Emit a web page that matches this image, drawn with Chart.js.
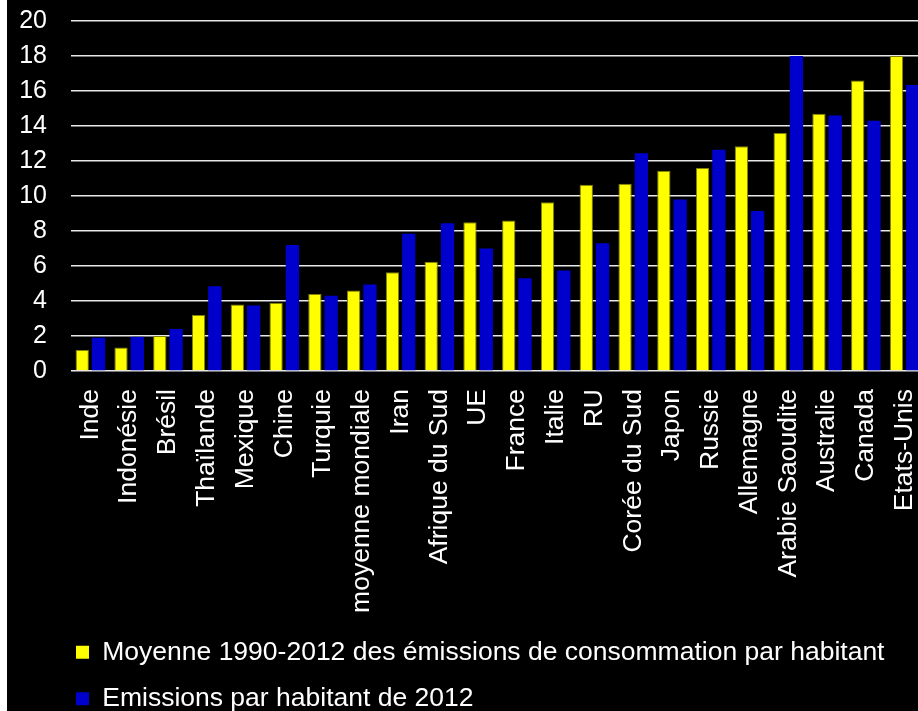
<!DOCTYPE html>
<html>
<head>
<meta charset="utf-8">
<script src="https://cdn.jsdelivr.net/npm/chart.js@4/dist/chart.umd.min.js"></script>
<style>
  html, body { margin: 0; padding: 0; background: #ffffff; overflow: hidden; width: 918px; height: 711px; }
  #wrap { position: absolute; left: 7px; top: 0; width: 917px; height: 722px; background: #000000; }
  canvas { display: block; }
</style>
</head>
<body>
<div id="wrap"><canvas id="c" width="917" height="722"></canvas></div>
<script>
const categories = ["Inde", "Indonésie", "Brésil", "Thaïlande", "Mexique", "Chine", "Turquie", "moyenne mondiale", "Iran", "Afrique du Sud", "UE", "France", "Italie", "RU", "Corée du Sud", "Japon", "Russie", "Allemagne", "Arabie Saoudite", "Australie", "Canada", "Etats-Unis"];
const moyenneConsommation = [1.2, 1.35, 2.0, 3.2, 3.8, 3.9, 4.4, 4.6, 5.65, 6.25, 8.5, 8.6, 9.65, 10.65, 10.7, 11.45, 11.6, 12.85, 13.6, 14.7, 16.6, 18.0];
const emissions2012 = [1.9, 1.95, 2.4, 4.85, 3.75, 7.2, 4.3, 4.95, 7.85, 8.45, 7.0, 5.3, 5.75, 7.3, 12.45, 9.8, 12.65, 9.15, 18.0, 14.6, 14.3, 16.35];
const seriesLabels = ["Moyenne 1990-2012 des émissions de consommation par habitant", "Emissions par habitant de 2012"];
const yTicks = [0, 2, 4, 6, 8, 10, 12, 14, 16, 18, 20];

const FONT = "'Liberation Sans', Arial, Helvetica, sans-serif";

const legendShift = {
  id: 'legendShift',
  afterLayout(chart) {
    chart.legend.left += 49;
  }
};

new Chart(document.getElementById('c'), {
  type: 'bar',
  data: {
    labels: categories,
    datasets: [
      {
        label: seriesLabels[0],
        data: moyenneConsommation,
        backgroundColor: '#ffff00',
        borderColor: '#80800a',
        borderWidth: 1,
        barPercentage: 0.816,
        categoryPercentage: 0.84
      },
      {
        label: seriesLabels[1],
        data: emissions2012,
        backgroundColor: '#0000cc',
        borderColor: '#0000aa',
        borderWidth: 0,
        barPercentage: 0.816,
        categoryPercentage: 0.84
      }
    ]
  },
  options: {
    responsive: false,
    animation: false,
    devicePixelRatio: 1,
    layout: { padding: { top: 21, left: 0, right: 0, bottom: 0 } },
    scales: {
      y: {
        min: 0,
        max: 20,
        afterBuildTicks(scale) { scale.ticks = yTicks.map(v => ({ value: v })); },
        afterFit(scale) { scale.width = 64; scale.paddingTop = 0; scale.paddingBottom = 0; },
        grid: { color: '#e8e8e8', lineWidth: 1.5, drawTicks: false },
        border: { display: false },
        ticks: { color: '#ffffff', padding: 24, font: { family: FONT, size: 25 } }
      },
      x: {
        afterFit(scale) { scale.height = 248; scale.paddingLeft = 0; scale.paddingRight = 0; },
        grid: { display: false, drawTicks: false },
        border: { display: false },
        ticks: {
          color: '#ffffff',
          padding: 18,
          maxRotation: 90,
          minRotation: 90,
          autoSkip: false,
          font: { family: FONT, size: 26.5 }
        }
      }
    },
    plugins: {
      tooltip: { enabled: false },
      legend: {
        position: 'bottom',
        align: 'start',
        labels: {
          color: '#ffffff',
          boxWidth: 13,
          boxHeight: 13,
          padding: 20,
          font: { family: FONT, size: 26.5 },
          generateLabels(chart) {
            const items = Chart.defaults.plugins.legend.labels.generateLabels(chart);
            items.forEach(it => { it.lineWidth = 0; it.strokeStyle = it.fillStyle; });
            return items;
          }
        }
      }
    }
  },
  plugins: [legendShift]
});
</script>
</body>
</html>
